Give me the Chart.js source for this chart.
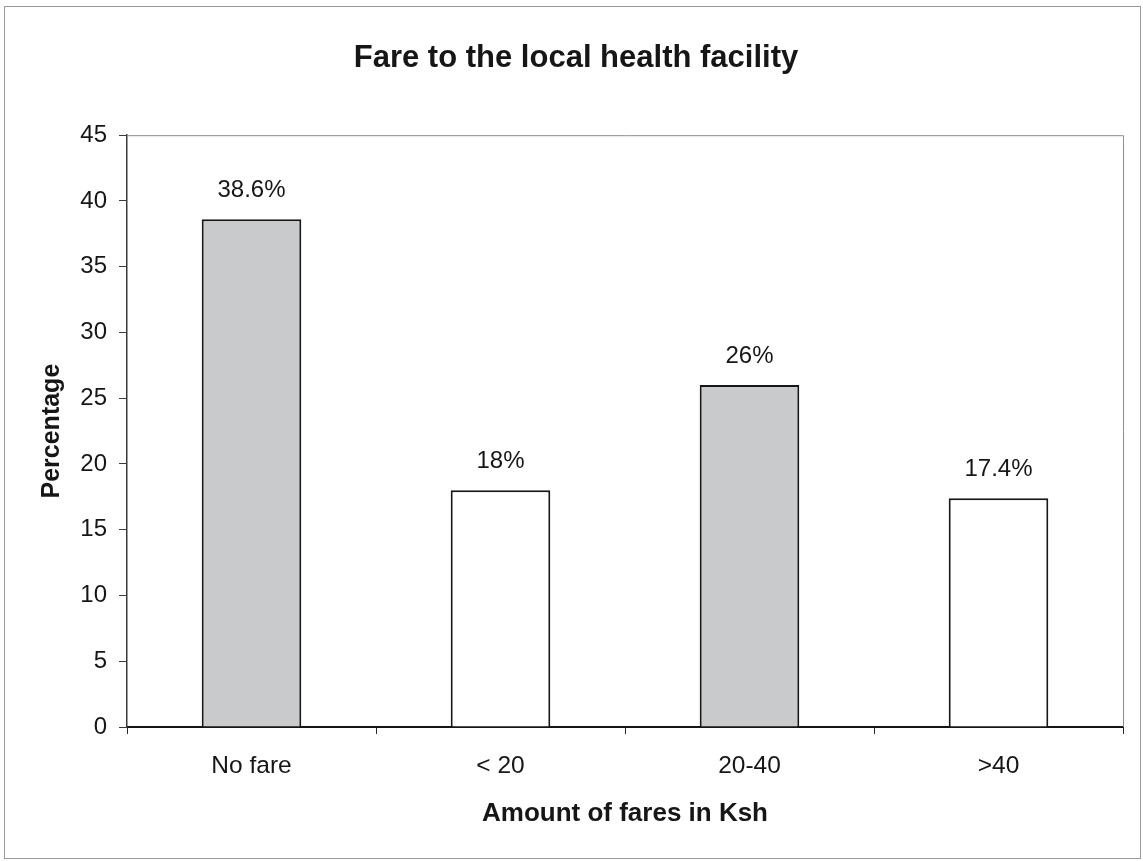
<!DOCTYPE html>
<html>
<head>
<meta charset="utf-8">
<title>Fare to the local health facility</title>
<script src="https://cdn.jsdelivr.net/npm/chart.js@4/dist/chart.umd.min.js"></script>
<style>
  html, body { margin: 0; padding: 0; background: #ffffff; }
  #wrap { width: 1143px; height: 861px; }
</style>
</head>
<body>
<div id="wrap"><canvas id="chart" width="1143" height="861"></canvas></div>
<script>
// Survey results: share of respondents by fare paid to reach the health facility
const categories = ['No fare', '< 20', '20-40', '>40'];
const percentages = [38.6, 18, 26, 17.4];
const yMin = 0;
const yMax = 45;
const yStep = 5;

const chartTitle = 'Fare to the local health facility';
const xTitle = 'Amount of fares in Ksh';
const yTitle = 'Percentage';

const FONT = "'Liberation Sans', Arial, Helvetica, sans-serif";
const INK = '#161616';
const SHADE = '#c9cacb';

// Outer frame around the whole figure and the thin top/right plot border
const framePlugin = {
  id: 'frame',
  beforeDraw(chart) {
    const ctx = chart.ctx;
    ctx.save();
    ctx.fillStyle = '#ffffff';
    ctx.fillRect(0, 0, chart.width, chart.height);
    ctx.strokeStyle = '#9a9a9a';
    ctx.lineWidth = 1;
    ctx.strokeRect(4.5, 6.5, chart.width - 7, chart.height - 9);
    ctx.restore();
  },
  afterDraw(chart) {
    const a = chart.chartArea;
    const ctx = chart.ctx;
    ctx.save();
    ctx.strokeStyle = '#8c8c8c';
    ctx.lineWidth = 1;
    ctx.beginPath();
    ctx.moveTo(a.left, a.top + 0.5);
    ctx.lineTo(a.right + 0.5, a.top + 0.5);
    ctx.lineTo(a.right + 0.5, a.bottom);
    ctx.stroke();
    ctx.restore();
  }
};

// Percentage labels above each bar, taken from the bar's own value
const valueLabelPlugin = {
  id: 'valueLabels',
  afterDatasetsDraw(chart) {
    const ctx = chart.ctx;
    const meta = chart.getDatasetMeta(0);
    const values = chart.data.datasets[0].data;
    ctx.save();
    ctx.font = '24px ' + FONT;
    ctx.fillStyle = INK;
    ctx.textAlign = 'center';
    ctx.textBaseline = 'middle';
    meta.data.forEach((bar, i) => {
      ctx.fillText(values[i] + '%', bar.x, bar.y - 29);
    });
    ctx.restore();
  }
};

new Chart(document.getElementById('chart'), {
  type: 'bar',
  data: {
    labels: categories,
    datasets: [{
      data: percentages,
      backgroundColor: (c) => (c.dataIndex % 2 === 0 ? SHADE : '#ffffff'),
      borderColor: INK,
      borderWidth: 2,
      borderSkipped: 'start',
      barPercentage: 0.4,
      categoryPercentage: 1.0
    }]
  },
  options: {
    responsive: false,
    animation: false,
    devicePixelRatio: 1,
    layout: { padding: { left: 29, right: 20, top: 0, bottom: 0 } },
    plugins: {
      legend: { display: false },
      tooltip: { enabled: false },
      title: {
        display: true,
        text: chartTitle,
        color: INK,
        font: { family: FONT, size: 31, weight: 'bold' },
        padding: { top: 40, bottom: 58 }
      }
    },
    scales: {
      x: {
        afterFit(scale) { scale.height = 134; },
        grid: {
          offset: true,
          drawOnChartArea: false,
          drawTicks: true,
          tickLength: 7,
          color: '#2a2a2a',
          lineWidth: 1
        },
        border: { display: true, color: INK, width: 2 },
        ticks: {
          color: INK,
          padding: 18,
          font: { family: FONT, size: 24.5 }
        },
        title: {
          display: true,
          text: xTitle,
          color: INK,
          font: { family: FONT, size: 26, weight: 'bold' },
          padding: { top: 4, bottom: 32 }
        }
      },
      y: {
        min: yMin,
        max: yMax,
        afterFit(scale) { scale.width = 98; },
        ticks: {
          stepSize: yStep,
          color: INK,
          padding: 12,
          font: { family: FONT, size: 24 }
        },
        grid: {
          drawOnChartArea: false,
          drawTicks: true,
          tickLength: 8,
          color: '#3a3a3a',
          lineWidth: 1
        },
        border: { display: true, color: '#3a3a3a', width: 1.5 },
        title: {
          display: true,
          text: yTitle,
          color: INK,
          font: { family: FONT, size: 25, weight: 'bold' },
          padding: { top: 8, bottom: 4 }
        }
      }
    }
  },
  plugins: [framePlugin, valueLabelPlugin]
});
</script>
</body>
</html>
